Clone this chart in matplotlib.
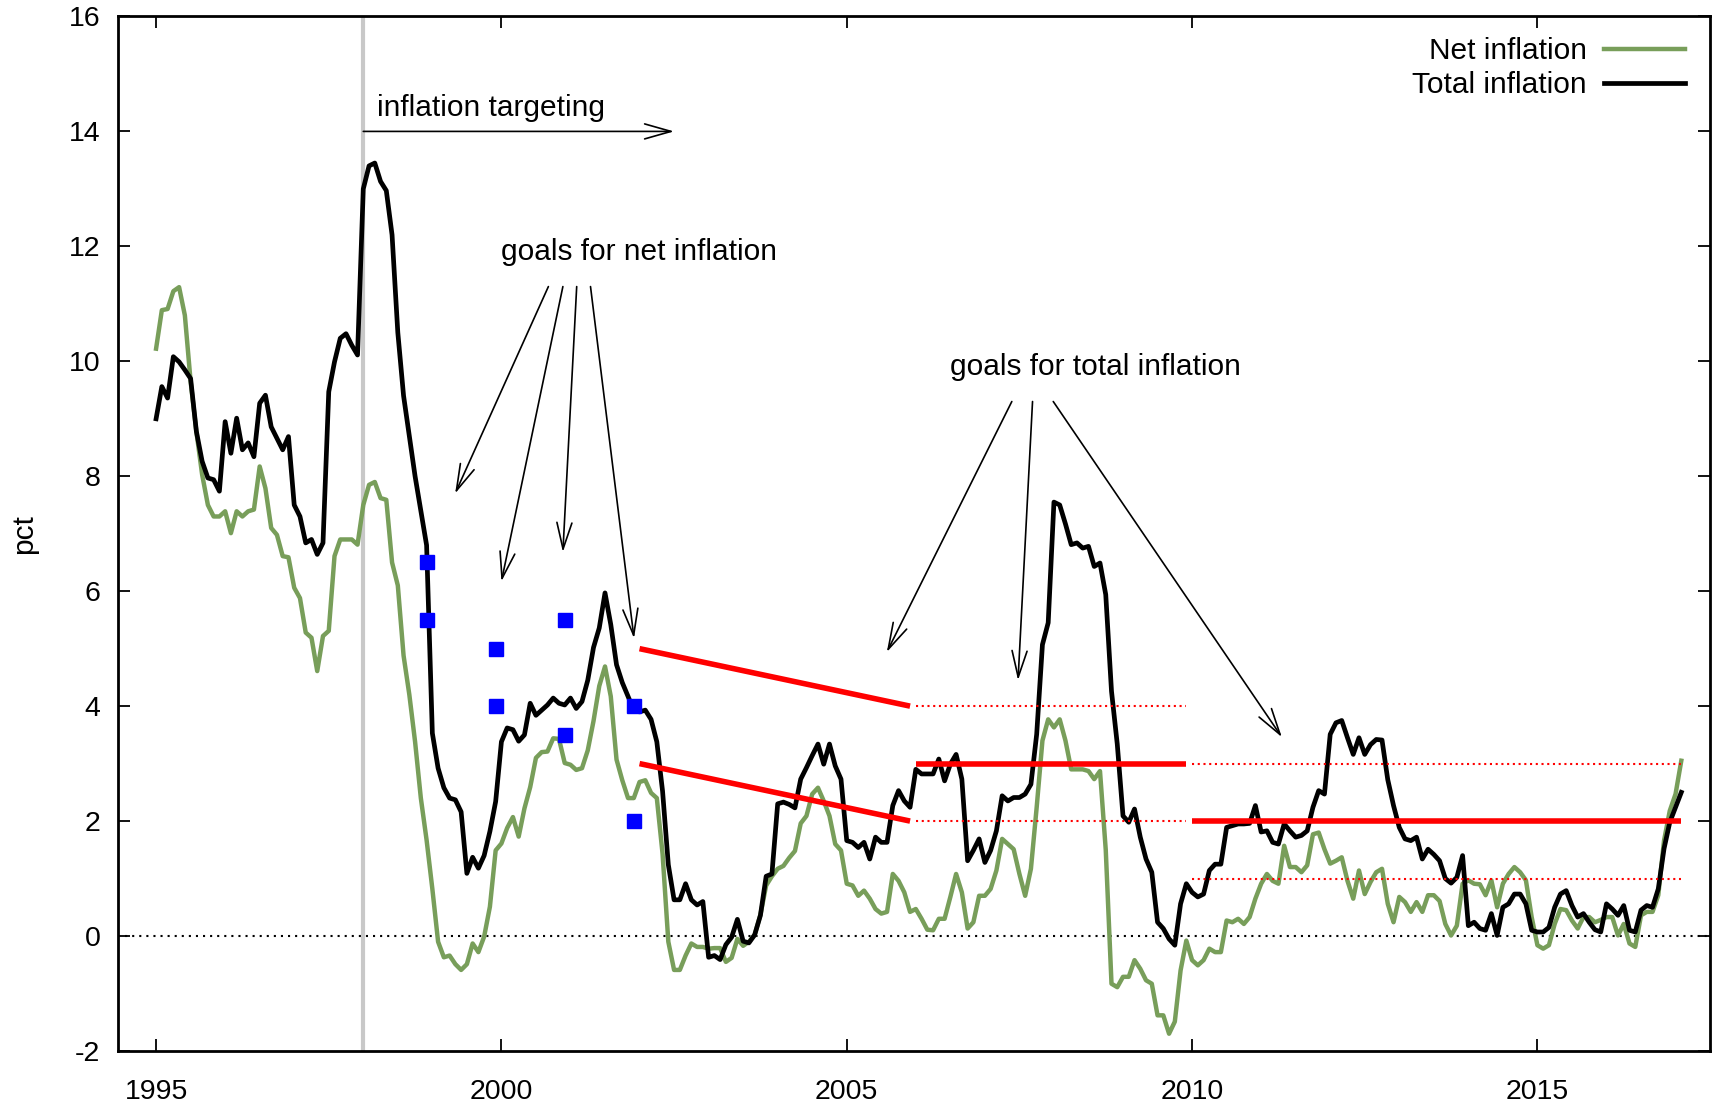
import numpy as np
import matplotlib.pyplot as plt

plt.rcParams['font.family'] = ['Liberation Sans', 'DejaVu Sans']
plt.rcParams['axes.unicode_minus'] = False

# monthly year-on-year inflation, starting January 1995
start_year = 1995

net_inflation = [
    10.22, 10.89, 10.91, 11.22, 11.29, 10.80, 9.65, 8.78, 8.03, 7.50, 7.30, 7.30,      # 1995
    7.39, 7.01, 7.39, 7.30, 7.39, 7.42, 8.17, 7.79, 7.10, 6.98, 6.61, 6.59,            # 1996
    6.06, 5.88, 5.28, 5.19, 4.61, 5.22, 5.31, 6.61, 6.90, 6.90, 6.90, 6.81,            # 1997
    7.50, 7.85, 7.90, 7.62, 7.59, 6.50, 6.10, 4.88, 4.20, 3.38, 2.40, 1.67,            # 1998
    0.82, -0.10, -0.37, -0.34, -0.49, -0.59, -0.49, -0.13, -0.28, -0.01, 0.51, 1.49,   # 1999
    1.61, 1.88, 2.07, 1.73, 2.22, 2.59, 3.10, 3.20, 3.21, 3.44, 3.43, 3.01,            # 2000
    2.98, 2.89, 2.92, 3.23, 3.74, 4.35, 4.69, 4.17, 3.07, 2.71, 2.40, 2.40,            # 2001
    2.68, 2.71, 2.49, 2.40, 1.43, -0.10, -0.59, -0.59, -0.34, -0.13, -0.19, -0.19,     # 2002
    -0.22, -0.21, -0.21, -0.45, -0.38, -0.05, -0.17, -0.10, 0.02, 0.37, 0.88, 1.04,    # 2003
    1.17, 1.22, 1.36, 1.48, 1.96, 2.09, 2.47, 2.58, 2.35, 2.09, 1.60, 1.49,            # 2004
    0.91, 0.88, 0.70, 0.79, 0.65, 0.47, 0.39, 0.42, 1.08, 0.96, 0.76, 0.42,            # 2005
    0.47, 0.30, 0.11, 0.10, 0.30, 0.30, 0.68, 1.08, 0.76, 0.13, 0.24, 0.70,            # 2006
    0.70, 0.82, 1.14, 1.69, 1.60, 1.51, 1.08, 0.70, 1.17, 2.24, 3.40, 3.77,            # 2007
    3.63, 3.77, 3.40, 2.90, 2.90, 2.90, 2.87, 2.73, 2.87, 1.50, -0.83, -0.89,          # 2008
    -0.71, -0.71, -0.42, -0.57, -0.77, -0.83, -1.38, -1.38, -1.70, -1.49, -0.60, -0.08,  # 2009
    -0.42, -0.51, -0.42, -0.22, -0.28, -0.28, 0.27, 0.24, 0.30, 0.21, 0.33, 0.65,      # 2010
    0.91, 1.08, 0.96, 0.91, 1.57, 1.20, 1.20, 1.11, 1.23, 1.77, 1.80, 1.51,            # 2011
    1.26, 1.31, 1.37, 0.96, 0.65, 1.14, 0.73, 0.94, 1.11, 1.17, 0.56, 0.24,            # 2012
    0.68, 0.59, 0.42, 0.59, 0.42, 0.71, 0.71, 0.61, 0.21, 0.01, 0.18, 0.91,            # 2013
    0.97, 0.91, 0.90, 0.71, 0.97, 0.50, 0.91, 1.08, 1.20, 1.11, 0.97, 0.33,            # 2014
    -0.16, -0.22, -0.16, 0.21, 0.47, 0.45, 0.27, 0.13, 0.33, 0.33, 0.24, 0.28,         # 2015
    0.33, 0.33, 0.01, 0.21, -0.13, -0.19, 0.36, 0.42, 0.42, 0.71, 1.66, 2.18,          # 2016
    2.47, 3.05,                                                                        # 2017
]

total_inflation = [
    9.00, 9.56, 9.36, 10.08, 9.99, 9.85, 9.70, 8.78, 8.26, 7.97, 7.94, 7.74,           # 1995
    8.95, 8.40, 9.01, 8.46, 8.58, 8.34, 9.27, 9.41, 8.86, 8.66, 8.46, 8.69,            # 1996
    7.50, 7.30, 6.84, 6.90, 6.64, 6.84, 9.47, 9.99, 10.40, 10.48, 10.28, 10.11,        # 1997
    13.00, 13.40, 13.45, 13.13, 12.97, 12.20, 10.50, 9.40, 8.70, 8.00, 7.40, 6.80,     # 1998
    3.53, 2.92, 2.58, 2.40, 2.37, 2.16, 1.09, 1.37, 1.18, 1.40, 1.82, 2.34,            # 1999
    3.38, 3.62, 3.59, 3.39, 3.50, 4.05, 3.84, 3.93, 4.02, 4.14, 4.05, 4.02,            # 2000
    4.14, 3.96, 4.08, 4.45, 5.02, 5.36, 5.97, 5.42, 4.72, 4.41, 4.17, 3.93,            # 2001
    3.90, 3.93, 3.77, 3.38, 2.52, 1.24, 0.63, 0.63, 0.91, 0.63, 0.54, 0.60,            # 2002
    -0.37, -0.34, -0.41, -0.15, -0.02, 0.29, -0.09, -0.12, 0.02, 0.36, 1.04, 1.08,     # 2003
    2.30, 2.33, 2.29, 2.23, 2.73, 2.93, 3.14, 3.34, 2.99, 3.34, 2.96, 2.73,            # 2004
    1.66, 1.63, 1.54, 1.63, 1.34, 1.72, 1.63, 1.63, 2.27, 2.53, 2.35, 2.24,            # 2005
    2.90, 2.82, 2.82, 2.82, 3.08, 2.70, 2.99, 3.16, 2.73, 1.31, 1.49, 1.69,            # 2006
    1.28, 1.49, 1.83, 2.44, 2.35, 2.41, 2.41, 2.47, 2.64, 3.51, 5.07, 5.45,            # 2007
    7.55, 7.50, 7.17, 6.81, 6.84, 6.75, 6.78, 6.43, 6.49, 5.94, 4.26, 3.34,            # 2008
    2.09, 1.98, 2.21, 1.72, 1.34, 1.11, 0.24, 0.13, -0.05, -0.16, 0.56, 0.91,          # 2009
    0.76, 0.68, 0.73, 1.14, 1.25, 1.25, 1.89, 1.92, 1.95, 1.95, 1.96, 2.27,            # 2010
    1.81, 1.83, 1.63, 1.60, 1.95, 1.83, 1.72, 1.75, 1.83, 2.24, 2.53, 2.47,            # 2011
    3.51, 3.71, 3.75, 3.45, 3.16, 3.45, 3.16, 3.33, 3.42, 3.41, 2.72, 2.27,            # 2012
    1.89, 1.69, 1.66, 1.72, 1.34, 1.51, 1.42, 1.31, 1.00, 0.92, 1.02, 1.40,            # 2013
    0.18, 0.24, 0.13, 0.10, 0.39, 0.01, 0.50, 0.56, 0.73, 0.73, 0.56, 0.10,            # 2014
    0.07, 0.07, 0.15, 0.50, 0.73, 0.79, 0.53, 0.33, 0.39, 0.24, 0.11, 0.07,            # 2015
    0.56, 0.47, 0.36, 0.53, 0.10, 0.07, 0.45, 0.53, 0.50, 0.82, 1.52, 1.98,            # 2016
    2.24, 2.50,                                                                        # 2017
]

# December targets for net inflation (band limits)
net_goal_dates = [1998 + 11/12, 1999 + 11/12, 2000 + 11/12, 2001 + 11/12]
net_goal_low = [5.5, 4.0, 3.5, 2.0]
net_goal_high = [6.5, 5.0, 5.5, 4.0]

# total inflation goals: (from, to, value at start, value at end)
total_goals = [
    (2002.0, 2005 + 11/12, 5.0, 4.0),
    (2002.0, 2005 + 11/12, 3.0, 2.0),
    (2006.0, 2009 + 11/12, 3.0, 3.0),
    (2010.0, 2017 + 1/12, 2.0, 2.0),
]
# tolerance bands around the point targets
total_bands = [
    (2006.0, 2009 + 11/12, 4.0),
    (2006.0, 2009 + 11/12, 2.0),
    (2010.0, 2017 + 1/12, 3.0),
    (2010.0, 2017 + 1/12, 1.0),
]

targeting_start = 1998.0

GREEN = '#789e5a'
RED = '#ff0000'
BLUE = '#0000ff'

dates = start_year + np.arange(len(total_inflation)) / 12.0

fig = plt.figure(figsize=(17.23, 11.05), dpi=100)
ax = fig.add_axes([0.0683, 0.0489, 0.9242, 0.9362])

ax.axvline(targeting_start, color='#c8c8c8', lw=3.0, zorder=1)
ax.axhline(0, color='black', lw=1.5, ls=(0, (1, 2.4)), zorder=1)

ax.plot(dates, net_inflation, color=GREEN, lw=3.2, label='Net inflation', zorder=3)
ax.plot(dates, total_inflation, color='black', lw=3.4, label='Total inflation', zorder=3)

for x0, x1, y0, y1 in total_goals:
    ax.plot([x0, x1], [y0, y1], color=RED, lw=4.0, solid_capstyle='butt', zorder=4)
for x0, x1, y in total_bands:
    ax.plot([x0, x1], [y, y], color=RED, lw=1.5, ls=(0, (1, 1.75)), zorder=4)

ax.plot(net_goal_dates, net_goal_low, 's', color=BLUE, ms=9.5, zorder=5)
ax.plot(net_goal_dates, net_goal_high, 's', color=BLUE, ms=9.5, zorder=5)

arrow = dict(arrowstyle='->,head_length=0.95,head_width=0.27', lw=1.2, color='black',
             shrinkA=0, shrinkB=0, mutation_scale=20)

ax.annotate('', xy=(2002.5, 14.0), xytext=(1998.0, 14.0), arrowprops=arrow)
ax.text(1998.2, 14.4, 'inflation targeting', fontsize=21.5, ha='left', va='center')

ax.text(2000.0, 11.9, 'goals for net inflation', fontsize=21.5, ha='left', va='center')
for x0, x1, y1 in [(2000.68, 1999.33, 7.7), (2000.89, 2000.0, 6.17),
                   (2001.09, 2000.89, 6.68), (2001.29, 2001.92, 5.18)]:
    ax.annotate('', xy=(x1, y1), xytext=(x0, 11.3), arrowprops=arrow)

ax.text(2006.5, 9.9, 'goals for total inflation', fontsize=21.5, ha='left', va='center')
for x0, x1, y1 in [(2007.39, 2005.58, 4.94), (2007.69, 2007.48, 4.45),
                   (2007.99, 2011.3, 3.46)]:
    ax.annotate('', xy=(x1, y1), xytext=(x0, 9.3), arrowprops=arrow)

ax.set_xlim(1994.444, 2017.5)
ax.set_ylim(-2, 16)
ax.set_xticks([1995, 2000, 2005, 2010, 2015])
ax.set_yticks(np.arange(-2, 17, 2))
ax.tick_params(direction='in', length=8.6, width=1.3, top=True, right=True,
               labelsize=20.5)
ax.tick_params(axis='x', pad=20)
ax.tick_params(axis='y', pad=12.5)
for s in ax.spines.values():
    s.set_linewidth(2.0)

ax.set_ylabel('pct', fontsize=21.5)
ax.yaxis.set_label_coords(-0.050, 0.5)

ax.legend(loc='upper right', bbox_to_anchor=(0.9843, 0.9797), frameon=False,
          markerfirst=False, fontsize=21.5, handlelength=2.7, handletextpad=0.6,
          labelspacing=0.2, borderpad=0, borderaxespad=0)

fig.savefig('out.png', dpi=100)
